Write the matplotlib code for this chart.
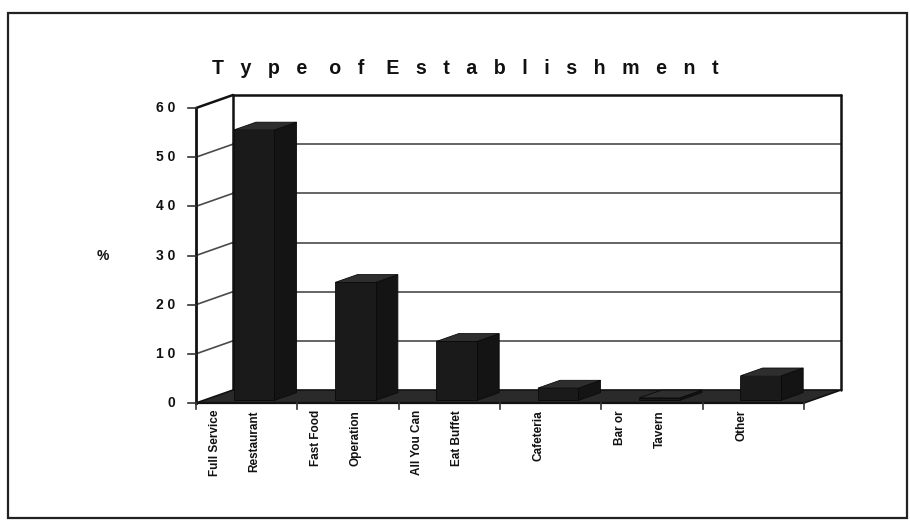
import matplotlib
matplotlib.use("Agg")
import matplotlib.pyplot as plt
from matplotlib.patches import Polygon, Rectangle
from matplotlib.lines import Line2D
import matplotlib.transforms as mtransforms

# ---- data -------------------------------------------------------------
categories = [
    ["Full Service", "Restaurant"],
    ["Fast Food", "Operation"],
    ["All You Can", "Eat Buffet"],
    ["Cafeteria"],
    ["Bar or", "Tavern"],
    ["Other"],
]
percentages = [55, 24, 12, 2.5, 0.5, 5]
y_ticks = [0, 10, 20, 30, 40, 50, 60]
y_tick_labels = ["0", "1 0", "2 0", "3 0", "4 0", "5 0", "6 0"]
title_text = "T   y   p   e    o   f    E   s   t   a   b   l   i   s   h   m   e   n   t"
y_label = "%"

# ---- figure -----------------------------------------------------------
W, H, DPI = 910, 523, 100
plt.rcParams["font.family"] = ["Liberation Sans", "DejaVu Sans"]
fig = plt.figure(figsize=(W / DPI, H / DPI), dpi=DPI)
fig.patch.set_facecolor("white")

# front plane of the pseudo-3D chart
ax = fig.add_axes([196 / W, (H - 403) / H, 608 / W, 295 / H])
ax.set_xlim(0, len(categories))
ax.set_ylim(0, 60)
ax.axis("off")

DX, DY = 37.0, 13.0          # depth offset of the back wall in pixels
IDT = mtransforms.IdentityTransform()


def proj(x, y, d):
    px, py = ax.transData.transform((x, y))
    return (px + DX * d, py + DY * d)


def poly(pts, **kw):
    p = Polygon(pts, closed=True, transform=IDT, **kw)
    fig.add_artist(p)
    return p


def line(p0, p1, **kw):
    l = Line2D([p0[0], p1[0]], [p0[1], p1[1]], transform=IDT, **kw)
    fig.add_artist(l)
    return l


n = len(categories)
ymax = y_ticks[-1]

# outer frame
fig.add_artist(Rectangle((8 / W, 5 / H), 899 / W, 505 / H, transform=fig.transFigure,
                         fill=False, lw=1.6, ec="#222222", zorder=1))

# back wall and left side wall
poly([proj(0, 0, 1), proj(n, 0, 1), proj(n, ymax, 1), proj(0, ymax, 1)],
     fc="white", ec="none", zorder=2)
grid_kw = dict(color="#4a4a4a", lw=1.2, zorder=3)
for v in y_ticks[1:-1]:
    line(proj(0, v, 1), proj(n, v, 1), **grid_kw)
    line(proj(0, v, 0), proj(0, v, 1), **grid_kw)
wall_kw = dict(color="#111111", lw=1.8, zorder=4, solid_capstyle="round")
line(proj(0, 0, 1), proj(0, ymax, 1), **wall_kw)
line(proj(0, ymax, 1), proj(n, ymax, 1), **wall_kw)
line(proj(n, ymax, 1), proj(n, 0, 1), **wall_kw)
line(proj(0, ymax, 0), proj(0, ymax, 1), **wall_kw)

# floor
poly([proj(0, 0, 0), proj(n, 0, 0), proj(n, 0, 1), proj(0, 0, 1)],
     fc="#2a2a2a", ec="#111111", lw=1.2, zorder=5)

# columns
bar_w = 0.4
d_front, d_back = 0.2, 0.8
for i, v in enumerate(percentages):
    x0, x1 = i + 0.5 - bar_w / 2, i + 0.5 + bar_w / 2
    poly([proj(x1, 0, d_front), proj(x1, 0, d_back), proj(x1, v, d_back), proj(x1, v, d_front)],
         fc="#141414", ec="#0a0a0a", lw=0.6, zorder=6)
    poly([proj(x0, v, d_front), proj(x1, v, d_front), proj(x1, v, d_back), proj(x0, v, d_back)],
         fc="#2e2e2e", ec="#0a0a0a", lw=0.6, zorder=6)
    poly([proj(x0, 0, d_front), proj(x1, 0, d_front), proj(x1, v, d_front), proj(x0, v, d_front)],
         fc="#1a1a1a", ec="#0a0a0a", lw=0.6, zorder=7)

# front axis lines and ticks
line(proj(0, 0, 0), proj(0, ymax, 0), color="#111111", lw=2.0, zorder=8)
line(proj(0, 0, 0), proj(n, 0, 0), color="#111111", lw=1.6, zorder=8)
for v in y_ticks:
    p = proj(0, v, 0)
    line((p[0] - 8, p[1]), p, color="#333333", lw=1.2, zorder=8)
for k in range(n + 1):
    p = proj(k, 0, 0)
    line(p, (p[0], p[1] - 6), color="#333333", lw=1.2, zorder=8)

# tick labels
ylab_tr = mtransforms.offset_copy(ax.transData, fig=fig, x=-21, y=0, units="dots")
for v, lab in zip(y_ticks, y_tick_labels):
    ax.text(0, v, lab, transform=ylab_tr, ha="right", va="center",
            fontsize=10, fontweight="bold", color="#111111", clip_on=False)

for i, lines in enumerate(categories):
    offs = [0.0] if len(lines) == 1 else [-20.0, 20.0]
    for txt, o in zip(lines, offs):
        tr = mtransforms.offset_copy(ax.transData, fig=fig, x=-12 + o, y=-7, units="dots")
        ax.text(i + 0.5, 0, txt, transform=tr, rotation=90, ha="center", va="top",
                fontsize=8.5, fontweight="bold", color="#111111", clip_on=False)

fig.text(103 / W, 1 - 256 / H, y_label, ha="center", va="center",
         fontsize=10, fontweight="bold", color="#111111")
fig.text(465 / W, 1 - 68 / H, title_text, ha="center", va="center",
         fontsize=14.1, fontweight="bold", color="#111111")

fig.savefig("out.png", dpi=DPI, facecolor="white")
